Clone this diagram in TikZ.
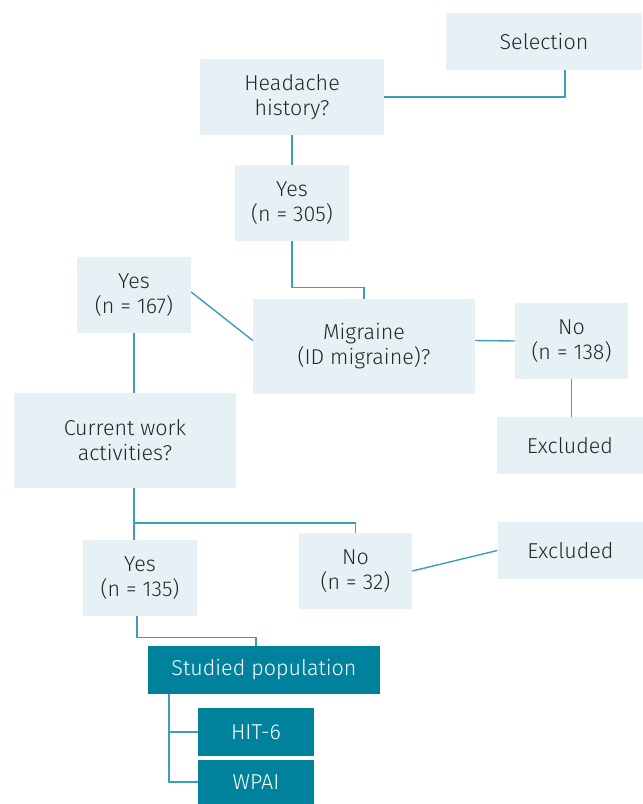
\documentclass[tikz,border=0pt]{standalone}
\usepackage{fontspec}
\setmainfont{Fira Sans}[UprightFont=* Light]
\definecolor{boxlight}{HTML}{E6F1F6}
\definecolor{boxdark}{HTML}{00829C}
\definecolor{linkcol}{HTML}{3AA0B8}
\definecolor{txtcol}{HTML}{262626}
\tikzset{
  lightbox/.style={fill=boxlight, text=txtcol, align=center, inner sep=0pt,
        font=\fontsize{21.5}{25}\selectfont},
  darkbox/.style={fill=boxdark, text=white, align=center, inner sep=0pt,
        font=\fontsize{21.5}{25}\selectfont},
  link/.style={draw=linkcol, line width=1.4pt}
}
\begin{document}
\begin{tikzpicture}[x=1pt,y=-1pt]
\useasboundingbox (0,0) rectangle (643,804);

%% first level
\node[lightbox, minimum width=196, minimum height=57] (sel) at (544,41.5) {Selection};
\node[lightbox, minimum width=184, minimum height=76] (head) at (292,97) {Headache\\history?};
\node[lightbox, minimum width=114, minimum height=76] (yes305) at (292,203) {Yes\\(n = 305)};

%% migraine
\node[lightbox, minimum width=114, minimum height=76] (yes167) at (134,295) {Yes\\(n = 167)};
\node[lightbox, minimum width=222, minimum height=95] (mig) at (364,346.5) {Migraine\\(ID migraine)?};
\node[lightbox, minimum width=113, minimum height=76] (no138) at (571.5,341) {No\\(n = 138)};
\node[lightbox, minimum width=146, minimum height=57] (excl1) at (570,445.5) {Excluded};

%% work
\node[lightbox, minimum width=222, minimum height=95] (work) at (125,440.5) {Current work\\activities?};
\node[lightbox, minimum width=114, minimum height=76] (yes135) at (140,578) {Yes\\(n = 135)};
\node[lightbox, minimum width=113, minimum height=76] (no32) at (355.5,571) {No\\(n = 32)};
\node[lightbox, minimum width=146, minimum height=57] (excl2) at (570.5,550.5) {Excluded};

%% studied population
\node[darkbox, minimum width=232, minimum height=48] (stud) at (264,670) {Studied population};
\node[darkbox, minimum width=116, minimum height=48] (hit) at (256,732) {HIT-6};
\node[darkbox, minimum width=116, minimum height=44] (wpai) at (256,782) {WPAI};

\coordinate (split) at (134,523);

%% connectors
\draw[link] ([xshift=21pt]sel.south) |- (head.east);
\draw[link] (head.south) -- (yes305.north);
\draw[link] (yes305.south) -- ++(0,46) -| (mig.north);
\draw[link] ([yshift=3pt]yes167.east) -- ([yshift=6pt]mig.west);
\draw[link] ([yshift=6pt]mig.east) -- (no138.west);
\draw[link] (no138.south) -- (no138.south |- excl1.north);
\draw[link] (yes167.south) -- (yes167.south |- work.north);
\draw[link] (split |- work.south) -- (split |- yes135.north);
\draw[link] (split) -| (no32.north);
\draw[link] (no32.east) -- (excl2.west);
\draw[link] ([xshift=-3pt]yes135.south) -- ++(0,21) -| ([xshift=-8pt]stud.north);
\draw[link] ([xshift=-95pt]stud.south) |- (wpai.west);
\draw[link] ([xshift=-95pt]stud.south |- hit.west) -- (hit.west);
\end{tikzpicture}
\end{document}
